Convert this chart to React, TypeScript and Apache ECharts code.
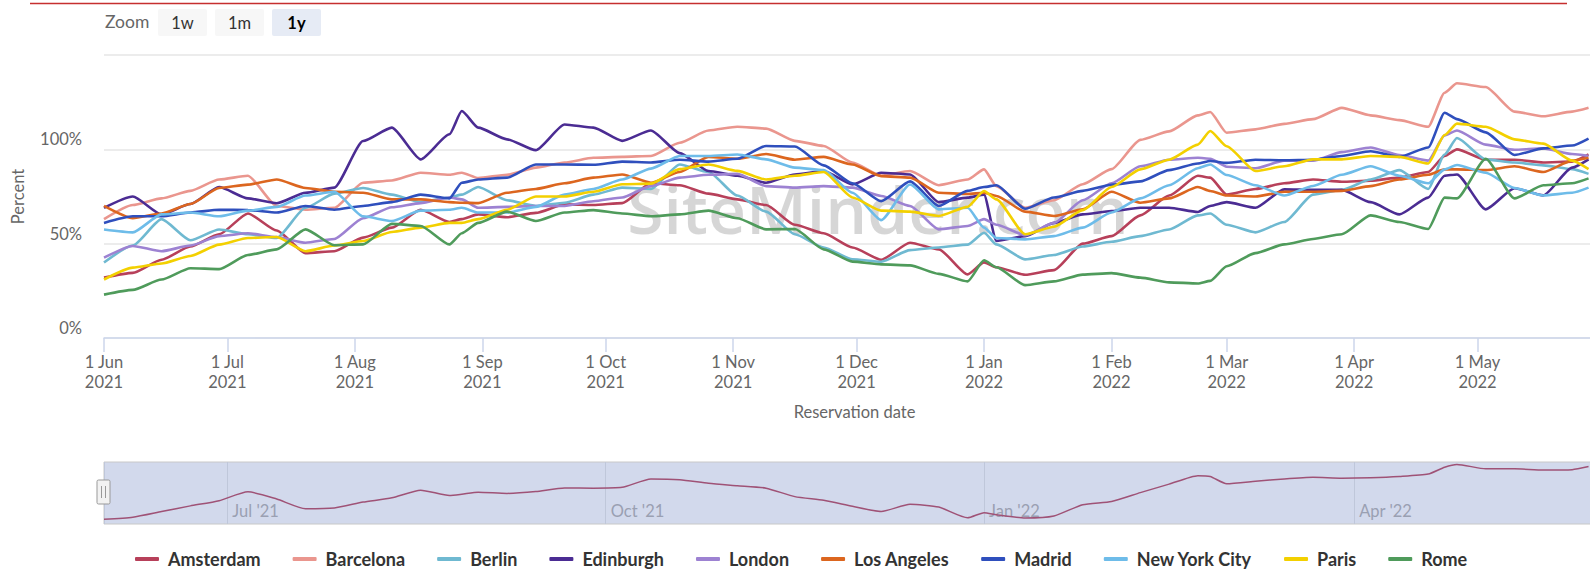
import React, { useEffect, useRef } from 'react';
import * as echarts from 'echarts';

// ---------- data ----------
const dates = [
  '2021-06-01', '2021-06-08', '2021-06-15', '2021-06-22', '2021-06-29', '2021-07-06', '2021-07-13', '2021-07-20',
  '2021-07-27', '2021-08-03', '2021-08-10', '2021-08-17', '2021-08-24', '2021-08-27', '2021-08-31', '2021-09-07',
  '2021-09-14', '2021-09-21', '2021-09-28', '2021-10-05', '2021-10-12', '2021-10-19', '2021-10-26', '2021-11-02',
  '2021-11-09', '2021-11-16', '2021-11-23', '2021-11-30', '2021-12-07', '2021-12-14', '2021-12-21', '2021-12-28',
  '2022-01-01', '2022-01-04', '2022-01-11', '2022-01-18', '2022-01-25', '2022-02-01', '2022-02-08', '2022-02-15',
  '2022-02-22', '2022-02-25', '2022-03-01', '2022-03-08', '2022-03-15', '2022-03-22', '2022-03-29', '2022-04-05',
  '2022-04-12', '2022-04-19', '2022-04-23', '2022-04-26', '2022-05-03', '2022-05-10', '2022-05-17', '2022-05-24',
  '2022-05-28',
];

const amsterdam = [32, 34.5, 41.5, 48.5, 55, 66, 57, 45, 46, 53.2, 58.5, 68, 61.5, 63, 65.5, 64, 66.3, 70.8, 70.5, 71.5, 82, 81, 76.5, 73.5, 70.5, 60, 55.5, 48, 41.5, 50.5, 47, 33.7, 40.1, 37.5, 33.5, 36, 50, 54, 65, 75.5, 86, 85, 76, 79, 82, 84, 82.8, 83.4, 85, 88, 96.5, 100, 94.5, 94.5, 93, 93.5, 97.3];
const barcelona = [63, 70.5, 74, 78, 84, 86, 70, 68, 69, 82.3, 83.5, 87.6, 86.5, 87.6, 84.8, 86.5, 90.3, 93, 95.5, 96, 96.5, 103.5, 110, 112, 111, 104.5, 101.8, 93, 86, 88.5, 81, 84, 89.4, 80.5, 69, 73, 81.5, 89.5, 105, 109.5, 118, 119.8, 108.8, 110.6, 113.5, 116, 122, 118, 115.5, 112, 130, 135, 133, 120, 117.5, 120, 122];
const berlin = [40, 49, 63, 51.8, 57.5, 55, 53, 69, 76.5, 79.5, 76, 72, 74.5, 76, 80, 73, 70, 71.7, 76, 79.7, 79, 92, 88, 75.5, 67, 55, 48, 41.7, 40.4, 46.6, 48, 49.5, 55.8, 49.6, 41.7, 44, 48.5, 51, 54, 57.5, 65, 66, 60, 56, 61.5, 76, 78.5, 84, 89, 79, 97.3, 106, 94.7, 93, 91.5, 89.5, 87];
const edinburgh = [69, 75, 65.5, 71, 80, 74, 71.4, 77, 79.7, 104.4, 111.5, 94.7, 108, 120.3, 111.5, 105.3, 99.6, 113.2, 111.5, 104.5, 110, 98, 88.5, 86, 82.3, 86.7, 88.5, 81.4, 87.6, 86.7, 72, 74.4, 76, 51.4, 54, 61, 65.5, 67.3, 69, 69, 66.8, 70, 72, 69, 78.8, 78.5, 78.5, 72, 65.5, 74.4, 86, 86.7, 68.2, 79.4, 75.6, 90.3, 94.7];
const london = [42.6, 48.8, 46, 49, 54, 55.5, 53.5, 50.5, 52.5, 63.5, 69.3, 71.5, 74.5, 73.5, 69, 69.5, 70, 70, 72.5, 74.5, 80.5, 85, 86.5, 87, 80.5, 79.7, 80.5, 79.7, 75.3, 70, 57.6, 59.4, 63, 60, 54.5, 61, 73, 82, 91, 94.5, 95.5, 95, 90.8, 90, 94, 94, 98.5, 101, 97, 94, 107.4, 110, 102.5, 99.8, 100.5, 97.5, 96.5];
const losAngeles = [70, 63.5, 66, 71, 79.5, 81.3, 84, 79.5, 77.5, 77, 73.5, 73.5, 72, 71.7, 71.5, 77, 79, 82, 85, 86.7, 82.3, 88, 96, 95, 97.5, 94.5, 96, 92, 85.8, 85, 77, 76.3, 77, 75.3, 67, 64.7, 68.2, 77.5, 71.7, 74, 80, 77.9, 75.5, 75, 77.5, 77.5, 78, 80.5, 84, 86.5, 89.4, 89.4, 89, 91, 88, 94, 95.5];
const madrid = [61, 64.5, 64.5, 66.5, 68, 67.8, 66.5, 70, 68, 70, 72, 76, 74, 82.3, 84, 85, 92, 92, 91.8, 93.5, 93, 94.5, 93.5, 95, 101.8, 101.5, 91.5, 82, 72.5, 83, 70, 78, 80, 81, 68.5, 74.5, 78, 81.2, 83, 89, 92.5, 93.8, 92.8, 94.5, 94.2, 94.5, 96.5, 99, 96, 101, 119.4, 116, 109, 97, 100.5, 102, 105.7];
const newYorkCity = [57.5, 56, 65.5, 66.5, 64.5, 67.5, 69.5, 75.5, 77.5, 64.5, 62, 67.5, 68, 69, 66.5, 66.5, 69.5, 76, 79, 84, 89.8, 96.5, 96.5, 97.3, 94.7, 90.3, 89, 77, 62.5, 81.4, 68.2, 69, 58.5, 53, 52.3, 54, 58.5, 66.5, 74, 81, 90, 92, 86.4, 81, 75.5, 80.6, 86.5, 91, 86, 82, 89.4, 91.7, 87.6, 79.5, 75.5, 77, 79.7];
const paris = [31, 37.3, 39.5, 43.5, 49.5, 53, 53.5, 46, 49, 51.4, 56.2, 58.5, 61, 61, 63, 68, 75, 75, 77.5, 81.5, 81.8, 89.5, 92, 88.6, 84, 86, 88, 74.5, 67.5, 67, 64.7, 69.5, 77.9, 73.5, 55, 59, 67.8, 80, 89.4, 94.5, 102.5, 109.7, 101.6, 88.5, 91, 94.7, 94.7, 96.5, 96, 92.5, 107.6, 113.6, 112, 105.3, 103, 94, 89.5];
const rome = [23, 25.5, 31, 37, 36.5, 44, 47, 57.6, 49.2, 49.6, 60.5, 59.4, 49.6, 55.5, 61, 67, 62, 66.5, 67.8, 66, 64.5, 65.5, 67.5, 63.5, 57.6, 57.8, 47, 40.5, 39, 38.5, 34, 30, 41.2, 37.5, 28, 30, 33.6, 34.4, 32, 29.5, 28.9, 30.3, 38, 45, 49.6, 52.5, 55, 65, 61.5, 57.8, 74.4, 74, 95, 74, 81, 82, 84.6];

const cityNames = ['Amsterdam', 'Barcelona', 'Berlin', 'Edinburgh', 'London', 'Los Angeles', 'Madrid', 'New York City', 'Paris', 'Rome'];
const cityValues = [amsterdam, barcelona, berlin, edinburgh, london, losAngeles, madrid, newYorkCity, paris, rome];
const cityColors = ['#b7405a', '#ea968e', '#6fb9d1', '#4b2c93', '#9d82d2', '#dc661f', '#2f4fbd', '#6ebce9', '#f3d000', '#4f9b5b'];

const axisStart = '2021-06-01';
const axisEnd = '2022-06-01';
const yMin = 0;
const yMax = 150;
const yStep = 50;
const monthNames = ['Jan', 'Feb', 'Mar', 'Apr', 'May', 'Jun', 'Jul', 'Aug', 'Sep', 'Oct', 'Nov', 'Dec'];
const rangeButtons = ['1w', '1m', '1y'];
const selectedRange = '1y';
const watermark = 'SiteMinder.com';

const DAY = 86400000;
function toTs(s: string): number {
  const [y, m, d] = s.split('-').map(Number);
  return Date.UTC(y, m - 1, d);
}

const FONT = 'Lato, "Open Sans", sans-serif';

function buildOption() {
  const minT = toTs(axisStart);
  const maxT = toTs(axisEnd);
  const ts = dates.map(toTs);

  const series: any[] = cityNames.map((name, i) => ({
    name,
    type: 'line',
    xAxisIndex: 0,
    yAxisIndex: 0,
    data: ts.map((t, j) => [t, cityValues[i][j]]),
    showSymbol: false,
    symbol: 'none',
    smooth: 0.2,
    smoothMonotone: 'x',
    lineStyle: { width: 2.6, color: cityColors[i] },
    itemStyle: { color: cityColors[i] },
    z: 3,
  }));

  series.push({
    name: 'navigator',
    type: 'line',
    xAxisIndex: 1,
    yAxisIndex: 1,
    data: ts.map((t, j) => [t, amsterdam[j]]),
    showSymbol: false,
    symbol: 'none',
    smooth: 0.2,
    lineStyle: { width: 1.5, color: '#9f5276' },
    silent: true,
  });

  const btnX = [158, 215, 272];
  const graphic: any[] = [
    {
      type: 'line',
      shape: { x1: 30, y1: 3.5, x2: 1567, y2: 3.5 },
      style: { stroke: '#c62f2f', lineWidth: 1.5 },
    },
    {
      type: 'text',
      x: 105,
      y: 21,
      style: { text: 'Zoom', fill: '#666666', fontSize: 17.5, fontFamily: FONT, verticalAlign: 'middle', align: 'left' },
    },
    {
      type: 'text',
      x: 878,
      y: 208,
      z: -10,
      silent: true,
      style: {
        text: watermark,
        fill: 'rgba(0,0,0,0.16)',
        fontSize: 66,
        fontWeight: 600,
        fontFamily: '"Open Sans", sans-serif',
        align: 'center',
        verticalAlign: 'middle',
      },
    },
    {
      type: 'rect',
      shape: { x: 97, y: 480, width: 13, height: 24, r: 1.5 },
      style: { fill: '#f2f2f2', stroke: '#999999', lineWidth: 1 },
      z: 100,
    },
    {
      type: 'line',
      shape: { x1: 101.5, y1: 486, x2: 101.5, y2: 498 },
      style: { stroke: '#999999', lineWidth: 1 },
      z: 101,
    },
    {
      type: 'line',
      shape: { x1: 105.5, y1: 486, x2: 105.5, y2: 498 },
      style: { stroke: '#999999', lineWidth: 1 },
      z: 101,
    },
  ];
  rangeButtons.forEach((b, i) => {
    const sel = b === selectedRange;
    graphic.push({
      type: 'rect',
      shape: { x: btnX[i], y: 9, width: 49, height: 27, r: 2 },
      style: { fill: sel ? '#e6ebf5' : '#f7f7f7', stroke: 'none' },
    });
    graphic.push({
      type: 'text',
      x: btnX[i] + 24.5,
      y: 22.5,
      style: {
        text: b,
        fill: sel ? '#000000' : '#333333',
        fontWeight: sel ? 'bold' : 'normal',
        fontSize: 16.5,
        fontFamily: FONT,
        align: 'center',
        verticalAlign: 'middle',
      },
    });
  });

  return {
    animation: false,
    useUTC: true,
    backgroundColor: '#ffffff',
    textStyle: { fontFamily: FONT },
    grid: [
      { left: 104, right: 15, top: 55, bottom: 232 },
      {
        left: 104,
        right: 15,
        top: 462,
        height: 62,
        show: true,
        backgroundColor: '#d2d9ec',
        borderColor: '#c8c8c8',
        borderWidth: 1,
      },
    ],
    xAxis: [
      {
        type: 'time',
        gridIndex: 0,
        min: minT,
        max: maxT,
        splitNumber: 12,
        minInterval: 28 * DAY,
        maxInterval: 31 * DAY,
        axisLine: { show: true, lineStyle: { color: '#ccd6eb', width: 1.5 } },
        axisTick: { show: true, length: 14, lineStyle: { color: '#ccd6eb', width: 1.5 } },
        splitLine: { show: false },
        axisLabel: {
          formatter: (v: number) => {
            if (v >= maxT) return '';
            const d = new Date(v);
            return `${d.getUTCDate()} ${monthNames[d.getUTCMonth()]}\n${d.getUTCFullYear()}`;
          },
          color: '#666666',
          fontSize: 16.5,
          lineHeight: 20,
          margin: 14,
          hideOverlap: false,
        },
        name: 'Reservation date',
        nameLocation: 'middle',
        nameGap: 65,
        nameTextStyle: { color: '#666666', fontSize: 16.5, fontFamily: FONT },
      },
      {
        type: 'time',
        gridIndex: 1,
        min: minT,
        max: maxT,
        splitNumber: 4,
        minInterval: 85 * DAY,
        maxInterval: 95 * DAY,
        axisLine: { show: false },
        axisTick: { show: false },
        splitLine: { show: true, lineStyle: { color: '#bfc7da', width: 1 } },
        axisLabel: {
          inside: true,
          formatter: (v: number) => {
            if (v <= minT || v >= maxT) return '';
            const d = new Date(v);
            return `${monthNames[d.getUTCMonth()]} '${String(d.getUTCFullYear()).slice(2)}`;
          },
          color: '#9aa0b2',
          fontSize: 16.5,
          align: 'left',
          padding: [0, 0, 0, 5],
          margin: 5,
        },
      },
    ],
    yAxis: [
      {
        type: 'value',
        gridIndex: 0,
        min: yMin,
        max: yMax,
        interval: yStep,
        axisLine: { show: false },
        axisTick: { show: false },
        splitLine: { show: true, lineStyle: { color: '#e6e6e6', width: 1.5 } },
        axisLabel: {
          formatter: (v: number) => (v === yMax ? '' : `${v}%`),
          color: '#666666',
          fontSize: 16.5,
          margin: 22,
          lineHeight: 20,
          verticalAlign: 'bottom',
        },
        name: 'Percent',
        nameLocation: 'middle',
        nameGap: 78,
        nameTextStyle: { color: '#666666', fontSize: 16.5, fontFamily: FONT },
      },
      {
        type: 'value',
        gridIndex: 1,
        min: (v: any) => v.min - 6,
        max: (v: any) => v.max + 3,
        show: false,
        splitLine: { show: false },
      },
    ],
    legend: {
      data: cityNames,
      left: 130,
      top: 545,
      icon: 'roundRect',
      itemWidth: 24,
      itemHeight: 4,
      itemGap: 32,
      textStyle: { fontSize: 18, fontWeight: 'bold', color: '#333333', fontFamily: FONT, padding: [0, 0, 0, 4] },
    },
    graphic,
    series,
  };
}

export default function App() {
  const ref = useRef<HTMLDivElement>(null);
  useEffect(() => {
    if (!ref.current) return;
    const chart = echarts.init(ref.current, undefined, { renderer: 'svg' });
    chart.setOption(buildOption() as any);
    return () => chart.dispose();
  }, []);
  return (
    <div style={{ position: 'fixed', left: 0, top: 0, width: 1590, height: 570, overflow: 'hidden', background: '#fff' }}>
      <div ref={ref} style={{ width: 1620, height: 570 }} />
    </div>
  );
}
